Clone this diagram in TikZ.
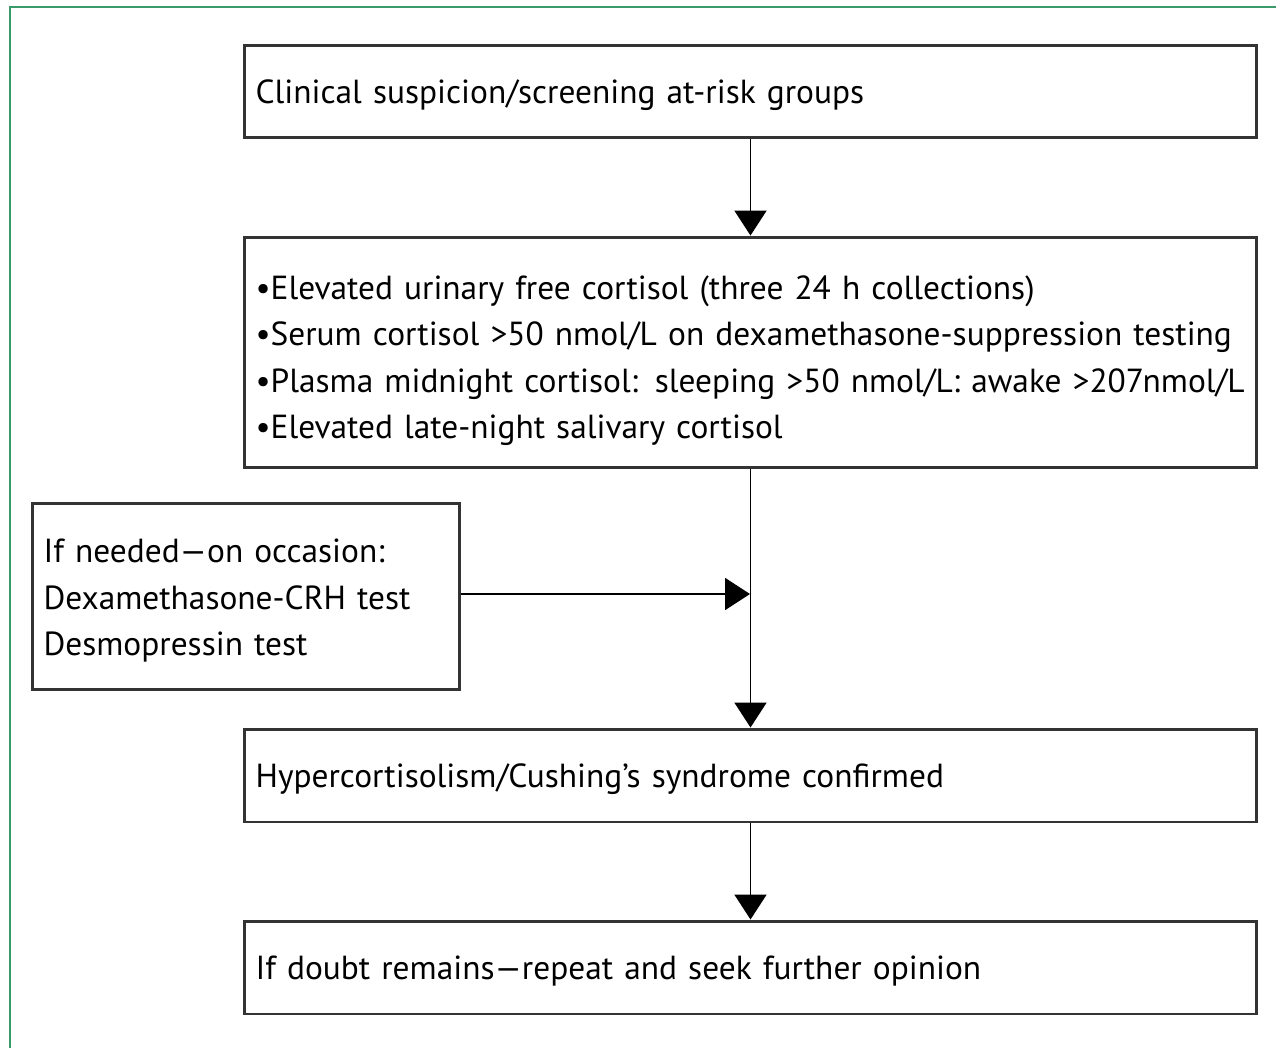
\documentclass[tikz,border=0pt]{standalone}
\usepackage{fontspec}
\setmainfont[WordSpace=0.8]{PT Sans}
\usetikzlibrary{arrows.meta, positioning}

\tikzset{
  stepbox/.style={draw=black!80, line width=1.7pt, minimum width=20.26cm, minimum height=1.86cm,
    inner xsep=0.2cm, text width=19.8cm, align=left,
    font=\fontsize{19}{26.5}\selectfont},
  oneline/.style={stepbox, text depth=-0.08cm},
  flow/.style={-{Triangle[length=0.5cm, width=0.64cm]}, line width=1.1pt}
}

\begin{document}
\begin{tikzpicture}[x=0.02cm, y=-0.02cm]
  \useasboundingbox (0,0) rectangle (1276,1048);

  % Frame
  \draw[line width=1.2pt, color={rgb,255:red,58;green,154;blue,106}] (10,1048) -- (10,7) -- (1276,7);

  % Boxes
  \node[oneline] (suspicion) at (750.5,91.5) {Clinical suspicion/screening at-risk groups};
  \node[stepbox, minimum height=4.62cm] (tests) at (750.5,352.5) {%
    \rule{0pt}{0.8cm}\textbullet Elevated urinary free cortisol (three 24 h collections)\\
    \textbullet Serum cortisol >50 nmol/L on dexamethasone-suppression testing\\
    \textbullet Plasma midnight cortisol: sleeping >50 nmol/L: awake >207nmol/L\\
    \textbullet Elevated late-night salivary cortisol};
  \node[stepbox, minimum width=8.56cm, text width=8.1cm, minimum height=3.74cm] (extra) at (246,596.5) {%
    \rule{0pt}{0.64cm}If needed—on occasion:\\
    Dexamethasone-CRH test\\
    Desmopressin test};
  \node[oneline] (confirmed) at (750.5,775.5) {Hypercortisolism/Cushing’s syndrome confirmed};
  \node[oneline] (doubt) at (750.5,967.5) {If doubt remains—repeat and seek further opinion};

  % Arrows
  \coordinate (join) at (750,594);
  \draw[flow] (suspicion.south) -- (tests.north);
  \draw[flow] (tests.south) -- (confirmed.north);
  \draw[flow] (extra.east |- join) -- (join);
  \draw[flow] (confirmed.south) -- (doubt.north);

\end{tikzpicture}
\end{document}
